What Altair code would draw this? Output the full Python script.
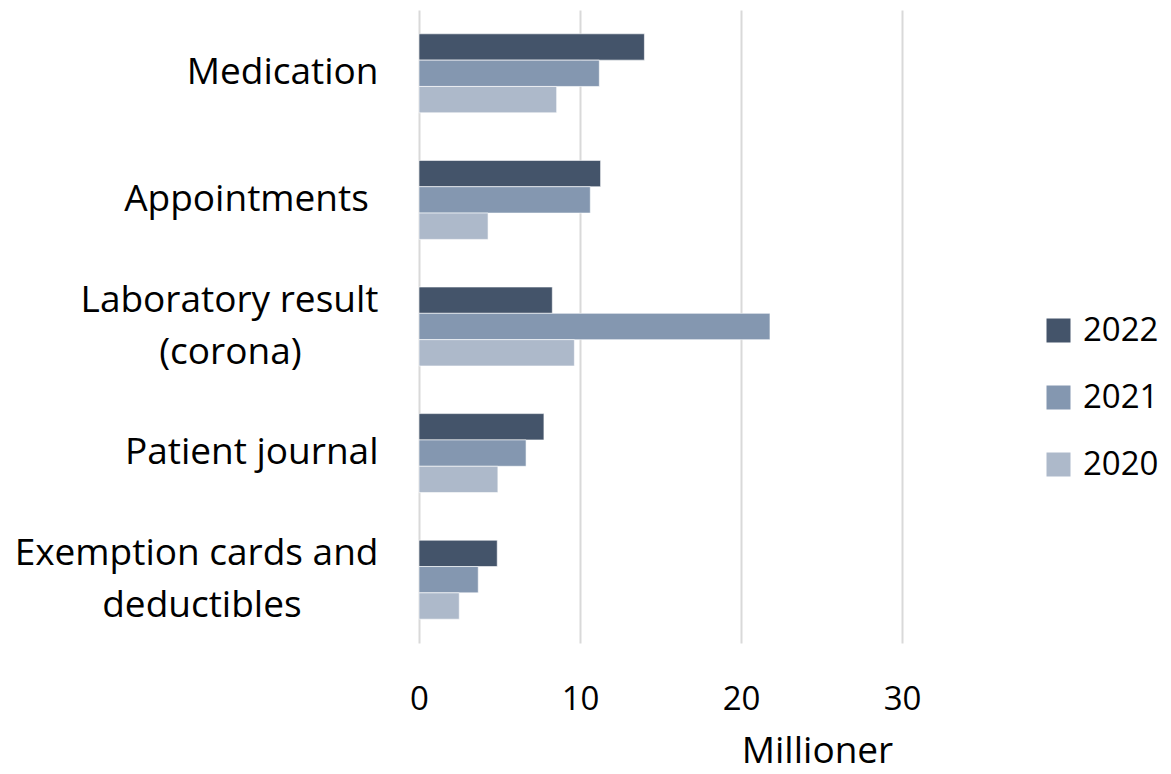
import altair as alt
import pandas as pd

NB = "\u00a0"
ZW = "\u200b"
categories = ["Medication", "Appointments" + NB + ZW, "Laboratory result\n(corona)" + NB * 8 + ZW,
              "Patient journal", "Exemption cards and\ndeductibles" + NB * 8 + ZW]
years = ["2022", "2021", "2020"]
v2022 = [14.0, 11.28, 8.28, 7.76, 4.86]
v2021 = [11.2, 10.64, 21.8, 6.65, 3.68]
v2020 = [8.55, 4.29, 9.65, 4.9, 2.5]
colors = ["#44546A", "#8497B0", "#ADB9CA"]

rows = []
for yr, vals in zip(years, [v2022, v2021, v2020]):
    for c, v in zip(categories, vals):
        rows.append({"category": c, "year": yr, "value": v})
df = pd.DataFrame(rows)

FONT = "Open Sans"

two_line = "indexof(datum.value, 'corona') >= 0 || indexof(datum.value, 'deductibles') >= 0"

chart = alt.Chart(df).mark_bar(stroke="white", strokeWidth=0.6).encode(
    x=alt.X("value:Q",
            scale=alt.Scale(domain=[0, 30], nice=False),
            axis=alt.Axis(values=[0, 10, 20, 30], title="Millioner", domain=False, ticks=False,
                          grid=True, gridColor="#d9d9d9", gridWidth=2, labelFlush=False,
                          labelFont=FONT, labelFontSize=33, labelColor="black", labelPadding=40,
                          titleFont=FONT, titleFontSize=37, titleFontWeight="normal", titleColor="black",
                          titleX=398, titleY=119, titleBaseline="alphabetic", titleAlign="center")),
    y=alt.Y("category:N", sort=categories,
            scale=alt.Scale(paddingInner=0.376, paddingOuter=0.188),
            axis=alt.Axis(title=None, domain=False, ticks=False, grid=False,
                          labelFont=FONT, labelFontSize=37, labelColor="black", labelPadding=41,
                          labelLineHeight=52.5, labelLimit=600,
                          labelOffset={"condition": {"test": two_line, "value": -26}, "value": 0},
                          labelExpr="split(datum.label, '\\n')")),
    yOffset=alt.YOffset("year:N", sort=years),
    color=alt.Color("year:N", sort=years,
                    scale=alt.Scale(domain=years, range=colors),
                    legend=alt.Legend(title=None, orient="none", legendX=623, legendY=304,
                                      symbolType="square", symbolSize=576, symbolStrokeWidth=0,
                                      labelFont=FONT, labelFontSize=33, labelColor="black",
                                      rowPadding=33, labelOffset=8)),
).properties(
    width=483, height=633,
    autosize=alt.AutoSizeParams(type="none"),
    padding={"left": 411, "top": 2, "right": 261, "bottom": 123},
).configure_view(stroke=None)

chart.save("out.html", embed_options={"renderer": "svg", "actions": False})
